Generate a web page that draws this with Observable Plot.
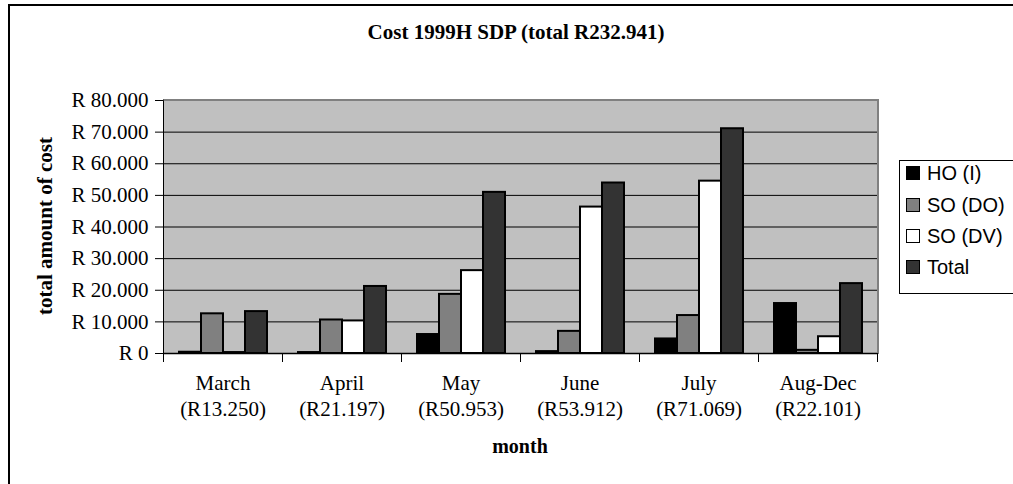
<!DOCTYPE html>
<html>
<head>
<meta charset="utf-8">
<script src="https://cdn.jsdelivr.net/npm/d3@7"></script>
<script src="https://cdn.jsdelivr.net/npm/@observablehq/plot@0.6"></script>
<style>
  html, body { margin: 0; padding: 0; background: #fff; }
  #wrap { position: relative; width: 1013px; height: 484px; overflow: hidden; background: #fff; }
  #outer { position: absolute; left: 8px; top: 4px; width: 1200px; height: 700px; border-top: 2px solid #000; border-left: 2px solid #000; }
  #plotbg { position: absolute; left: 163px; top: 99px; width: 713px; height: 253px; background: #c0c0c0; border-top: 2px solid #808080; border-right: 2px solid #808080; border-left: 1px solid #000; }
  #chart { position: absolute; left: 0; top: 0; }
  .ttl { position: absolute; font-family: "Liberation Serif", "Times New Roman", serif; font-weight: bold; white-space: nowrap; color: #000; }
  #title { left: 516px; top: 22px; font-size: 21px; line-height: 21px; transform: translateX(-50%); }
  #ytitle { left: 45px; top: 226px; font-size: 21px; line-height: 21px; transform: translate(-50%, -50%) rotate(-90deg); }
  #xtitle { left: 520px; top: 446px; font-size: 20px; line-height: 20px; transform: translate(-50%, -50%); }
  #legend { position: absolute; left: 899px; top: 160px; width: 160px; height: 132px; border: 1px solid #000; background: #fff; font-family: "Liberation Sans", Arial, sans-serif; font-size: 20px; }
  .row { position: absolute; left: 6px; height: 24px; display: flex; align-items: center; }
  .sw { width: 12px; height: 12px; border: 1px solid #000; margin-right: 7px; box-sizing: content-box; }
</style>
</head>
<body>
<div id="wrap">
  <div id="outer"></div>
  <div id="plotbg"></div>
  <div id="chart"></div>
  <div id="title" class="ttl">Cost 1999H SDP (total R232.941)</div>
  <div id="ytitle" class="ttl">total amount of cost</div>
  <div id="xtitle" class="ttl">month</div>
  <div id="legend"></div>
</div>
<script>
// ---- data ----
const months = ["March", "April", "May", "June", "July", "Aug-Dec"];
const monthTotalLabels = ["R13.250", "R21.197", "R50.953", "R53.912", "R71.069", "R22.101"];
const series = ["HO (I)", "SO (DO)", "SO (DV)", "Total"];
const hoValues    = [400, 300, 6000, 600, 4600, 15800];
const soDoValues  = [12550, 10600, 18700, 7000, 12000, 1000];
const soDvValues  = [300, 10300, 26200, 46300, 54500, 5300];
const totalValues = [13250, 21197, 50953, 53912, 71069, 22101];
const seriesColors = ["#000000", "#808080", "#ffffff", "#333333"];
const yTicks = [0, 10000, 20000, 30000, 40000, 50000, 60000, 70000, 80000];
const gridTicks = [10000, 20000, 30000, 40000, 50000, 60000, 70000];

const valuesBySeries = [hoValues, soDoValues, soDvValues, totalValues];
const table = [];
months.forEach((m, i) => {
  series.forEach((s, j) => table.push({month: m, series: s, value: valuesBySeries[j][i]}));
});
const monthLabel = new Map(months.map((m, i) => [m, m + "\n(" + monthTotalLabels[i] + ")"]));
const fmtR = d => "R " + d3.format(",")(d).replace(/,/g, ".");

const W = 1013, H = 484, mT = 100, mB = 131, mL = 163, mR = 136;
const innerH = H - mT - mB;

const chart = Plot.plot({
  width: W,
  height: H,
  marginTop: mT,
  marginBottom: mB,
  marginLeft: mL,
  marginRight: mR,
  style: {background: "transparent", fontFamily: "'Liberation Serif', 'Times New Roman', serif", fontSize: "21px", color: "#000", overflow: "visible"},
  fx: {domain: months, padding: 0, label: null},
  x: {domain: series, paddingInner: 0, paddingOuter: 0.7, axis: null},
  y: {domain: [0, 80000], ticks: yTicks, tickSize: 8, tickPadding: 7, tickFormat: fmtR, label: null},
  color: {domain: series, range: seriesColors},
  marks: [
    Plot.axisFx({anchor: "bottom", tickSize: 0, tickPadding: 19, tickFormat: m => monthLabel.get(m), label: null, lineHeight: 1.2}),
    Plot.ruleY(gridTicks, {stroke: "#000", strokeWidth: 1}),
    Plot.frame({anchor: "left", stroke: "#000", insetTop: innerH, insetBottom: -8}),
    Plot.frame({anchor: "right", stroke: "#000", insetTop: innerH, insetBottom: -8}),
    Plot.barY(table, {fx: "month", x: "series", y: "value", fill: "series", stroke: "#000", strokeWidth: 2}),
    Plot.ruleY([0], {stroke: "#000", strokeWidth: 1.5})
  ]
});
document.getElementById("chart").appendChild(chart);

// legend
const leg = document.getElementById("legend");
const rowCenters = [12, 44, 75, 106];
series.forEach((s, i) => {
  const r = document.createElement("div");
  r.className = "row";
  r.style.top = (rowCenters[i] - 12) + "px";
  const sw = document.createElement("span");
  sw.className = "sw";
  sw.style.background = seriesColors[i];
  const t = document.createElement("span");
  t.textContent = s;
  r.appendChild(sw);
  r.appendChild(t);
  leg.appendChild(r);
});
</script>
</body>
</html>
